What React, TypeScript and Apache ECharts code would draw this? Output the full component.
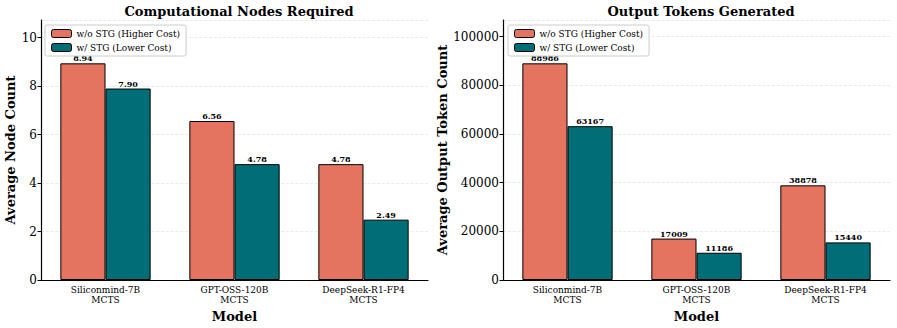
import React, { useEffect, useRef } from "react";
import * as echarts from "echarts";

const categories = ["Siliconmind-7B\nMCTS", "GPT-OSS-120B\nMCTS", "DeepSeek-R1-FP4\nMCTS"];
const seriesNames = ["w/o STG (Higher Cost)", "w/ STG (Lower Cost)"];
const nodesWithout = [8.94, 6.56, 4.78];
const nodesWith = [7.9, 4.78, 2.49];
const tokensWithout = [88986, 17009, 38878];
const tokensWith = [63167, 11186, 15440];
const titles = ["Computational Nodes Required", "Output Tokens Generated"];
const yNames = ["Average Node Count", "Average Output Token Count"];

const ORANGE = "#E4735F";
const TEAL = "#006D77";
const FONT = "DejaVu Serif";

export default function App() {
  const ref = useRef<HTMLDivElement>(null);
  useEffect(() => {
    document.body.style.margin = "0";
    if (!ref.current) return;
    const chart = echarts.init(ref.current, undefined, { renderer: "svg" });
    const grids = [
      { left: 41, right: 469, top: 20, bottom: 45 },
      { left: 503, right: 7, top: 20, bottom: 45 },
    ];
    const xAxis = [0, 1].map((i) => ({
      type: "category",
      gridIndex: i,
      data: categories,
      name: "Model",
      nameLocation: "middle",
      nameGap: 30,
      nameTextStyle: { fontFamily: FONT, fontWeight: "bold", fontSize: 13, color: "#000" },
      axisLine: { lineStyle: { color: "#000", width: 1.2 } },
      axisTick: { alignWithLabel: true, length: 3.5, lineStyle: { color: "#000" } },
      axisLabel: { fontFamily: FONT, fontSize: 9, color: "#000", lineHeight: 10, margin: 5 },
    }));
    const maxes = [nodesWithout[0] * 1.2, tokensWithout[0] * 1.2];
    const intervals = [2, 20000];
    const yAxis = [0, 1].map((i) => ({
      type: "value",
      gridIndex: i,
      min: 0,
      max: maxes[i],
      interval: intervals[i],
      name: yNames[i],
      nameLocation: "middle",
      nameGap: i === 0 ? 24 : 47,
      nameTextStyle: { fontFamily: FONT, fontWeight: "bold", fontSize: 13, color: "#000" },
      axisLine: { show: true, lineStyle: { color: "#000", width: 1.2 } },
      axisTick: { show: true, length: 3.5, lineStyle: { color: "#000" } },
      axisLabel: {
        fontFamily: FONT,
        fontSize: 12,
        color: "#000",
        margin: 4,
        showMaxLabel: false,
        formatter: (v: number) => String(v),
      },
      splitLine: { show: true, lineStyle: { color: "#e6e6e6", type: "dashed", width: 0.8 } },
    }));
    const data = [
      [nodesWithout, nodesWith],
      [tokensWithout, tokensWith],
    ];
    const series: any[] = [];
    [0, 1].forEach((g) => {
      [0, 1].forEach((s) => {
        series.push({
          type: "bar",
          name: seriesNames[s],
          xAxisIndex: g,
          yAxisIndex: g,
          data: data[g][s],
          barWidth: "35%",
          barGap: "0%",
          itemStyle: { color: s === 0 ? ORANGE : TEAL, borderColor: "#000", borderWidth: 1 },
          label: {
            show: true,
            position: "top",
            distance: 1,
            fontFamily: FONT,
            fontWeight: "bold",
            fontSize: 8,
            color: "#000",
            formatter: (p: any) => (g === 0 ? Number(p.value).toFixed(2) : String(p.value)),
          },
        });
      });
    });
    const legendBase = {
      orient: "vertical",
      top: 25,
      itemWidth: 20,
      itemHeight: 8,
      itemGap: 5,
      padding: [4, 6, 4, 6],
      borderColor: "#ccc",
      borderWidth: 1,
      borderRadius: 2,
      backgroundColor: "#fff",
      textStyle: { fontFamily: FONT, fontSize: 9, color: "#000" },
      data: seriesNames.map((n, i) => ({
        name: n,
        itemStyle: { color: i === 0 ? ORANGE : TEAL, borderColor: "#000", borderWidth: 1 },
      })),
      selectedMode: false,
    };
    chart.setOption({
      animation: false,
      backgroundColor: "#fff",
      title: [
        {
          text: titles[0],
          left: 234,
          textAlign: "center",
          top: 0,
          textStyle: { fontFamily: FONT, fontWeight: "bold", fontSize: 13, color: "#000" },
        },
        {
          text: titles[1],
          left: 696,
          textAlign: "center",
          top: 0,
          textStyle: { fontFamily: FONT, fontWeight: "bold", fontSize: 13, color: "#000" },
        },
      ],
      legend: [
        { ...legendBase, left: 45 },
        { ...legendBase, left: 508 },
      ],
      grid: grids,
      xAxis,
      yAxis,
      series,
    });
    return () => chart.dispose();
  }, []);
  return <div ref={ref} style={{ width: 897, height: 328 }} />;
}
